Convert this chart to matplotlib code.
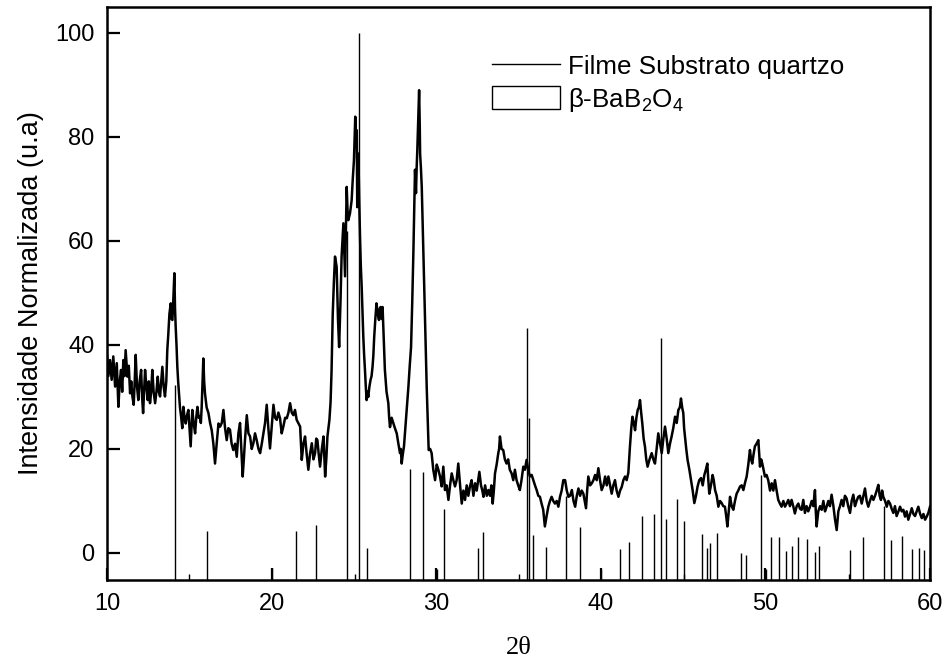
import matplotlib
matplotlib.use("Agg")
import matplotlib.pyplot as plt
from matplotlib.lines import Line2D
from matplotlib.patches import Rectangle

plt.rcParams['font.family'] = ['Liberation Sans', 'DejaVu Sans']
plt.rcParams['mathtext.fontset'] = 'custom'
plt.rcParams['mathtext.rm'] = 'Liberation Sans'
plt.rcParams['mathtext.it'] = 'Liberation Sans:italic'

# ---- measured pattern (2theta, normalized intensity) ----
two_theta = [
    10.00, 10.08, 10.18, 10.28, 10.38, 10.49, 10.59, 10.69, 10.77, 10.85, 10.92, 10.99, 11.06, 11.13, 11.24, 11.32,
    11.40, 11.47, 11.54, 11.62, 11.68, 11.74, 11.82, 11.90, 11.98, 12.07, 12.13, 12.19, 12.25, 12.31, 12.39, 12.47,
    12.54, 12.61, 12.68, 12.75, 12.83, 12.92, 13.00, 13.08, 13.15, 13.22, 13.29, 13.36, 13.44, 13.52, 13.60, 13.66,
    13.72, 13.79, 13.87, 13.92, 13.97, 14.03, 14.09, 14.13, 14.17, 14.22, 14.27, 14.32, 14.37, 14.43, 14.50, 14.57,
    14.64, 14.71, 14.78, 14.86, 14.94, 15.01, 15.08, 15.13, 15.18, 15.26, 15.35, 15.42, 15.49, 15.57, 15.65, 15.70,
    15.75, 15.80, 15.85, 15.90, 15.95, 16.05, 16.16, 16.26, 16.36, 16.46, 16.56, 16.66, 16.77, 16.87, 16.97, 17.07,
    17.17, 17.27, 17.37, 17.47, 17.57, 17.67, 17.78, 17.88, 17.98, 18.08, 18.16, 18.24, 18.31, 18.38, 18.49, 18.59,
    18.69, 18.79, 18.89, 18.99, 19.09, 19.20, 19.30, 19.40, 19.50, 19.60, 19.70, 19.80, 19.90, 20.00, 20.11, 20.21,
    20.31, 20.41, 20.51, 20.61, 20.71, 20.82, 20.92, 21.02, 21.12, 21.22, 21.32, 21.42, 21.52, 21.62, 21.73, 21.83,
    21.93, 22.03, 22.13, 22.23, 22.33, 22.44, 22.54, 22.64, 22.71, 22.78, 22.86, 22.94, 23.05, 23.15, 23.25, 23.32,
    23.39, 23.45, 23.51, 23.58, 23.64, 23.71, 23.78, 23.85, 23.95, 24.03, 24.10, 24.18, 24.25, 24.36, 24.46, 24.51,
    24.56, 24.61, 24.66, 24.76, 24.86, 24.93, 25.00, 25.08, 25.13, 25.17, 25.20, 25.24, 25.27, 25.32, 25.37, 25.42,
    25.47, 25.52, 25.57, 25.62, 25.67, 25.72, 25.77, 25.82, 25.87, 25.94, 26.01, 26.07, 26.13, 26.18, 26.23, 26.30,
    26.37, 26.45, 26.52, 26.57, 26.62, 26.68, 26.74, 26.81, 26.88, 26.98, 27.09, 27.14, 27.19, 27.29, 27.39, 27.49,
    27.60, 27.70, 27.80, 27.85, 27.90, 27.97, 28.04, 28.17, 28.31, 28.39, 28.47, 28.54, 28.61, 28.66, 28.71, 28.77,
    28.81, 28.85, 28.91, 28.96, 29.00, 29.02, 29.07, 29.12, 29.17, 29.22, 29.27, 29.32, 29.37, 29.42, 29.48, 29.54,
    29.63, 29.72, 29.82, 29.93, 30.03, 30.13, 30.23, 30.33, 30.43, 30.53, 30.63, 30.74, 30.84, 30.94, 31.04, 31.14,
    31.24, 31.34, 31.45, 31.55, 31.65, 31.75, 31.85, 31.95, 32.05, 32.15, 32.26, 32.36, 32.46, 32.55, 32.62, 32.72,
    32.80, 32.87, 32.97, 33.07, 33.17, 33.27, 33.35, 33.43, 33.50, 33.57, 33.67, 33.77, 33.82, 33.87, 33.97, 34.07,
    34.17, 34.27, 34.37, 34.47, 34.58, 34.68, 34.78, 34.88, 34.98, 35.08, 35.18, 35.29, 35.39, 35.49, 35.59, 35.69,
    35.80, 35.90, 36.00, 36.10, 36.20, 36.30, 36.40, 36.50, 36.60, 36.70, 36.81, 36.91, 37.01, 37.11, 37.21, 37.32,
    37.42, 37.52, 37.62, 37.72, 37.83, 37.93, 38.03, 38.13, 38.24, 38.34, 38.44, 38.54, 38.64, 38.74, 38.84, 38.94,
    39.02, 39.10, 39.17, 39.24, 39.35, 39.45, 39.55, 39.65, 39.75, 39.85, 39.95, 40.05, 40.16, 40.26, 40.36, 40.46,
    40.56, 40.66, 40.76, 40.86, 40.96, 41.07, 41.17, 41.27, 41.37, 41.47, 41.57, 41.67, 41.72, 41.77, 41.85, 41.92,
    42.00, 42.08, 42.16, 42.24, 42.31, 42.38, 42.45, 42.52, 42.60, 42.68, 42.76, 42.84, 42.96, 43.09, 43.19, 43.29,
    43.39, 43.49, 43.60, 43.70, 43.80, 43.90, 44.00, 44.10, 44.20, 44.30, 44.40, 44.51, 44.61, 44.71, 44.80, 44.87,
    44.94, 45.01, 45.06, 45.11, 45.19, 45.27, 45.38, 45.48, 45.58, 45.68, 45.78, 45.88, 45.98, 46.09, 46.19, 46.29,
    46.38, 46.47, 46.53, 46.59, 46.69, 46.79, 46.86, 46.94, 47.04, 47.14, 47.24, 47.34, 47.44, 47.54, 47.62, 47.69,
    47.77, 47.85, 47.95, 48.05, 48.15, 48.25, 48.35, 48.46, 48.56, 48.66, 48.76, 48.86, 48.96, 49.06, 49.13, 49.20,
    49.28, 49.36, 49.46, 49.57, 49.62, 49.67, 49.74, 49.81, 49.89, 49.97, 50.07, 50.17, 50.28, 50.38, 50.48, 50.58,
    50.68, 50.78, 50.88, 50.98, 51.09, 51.19, 51.29, 51.39, 51.49, 51.59, 51.69, 51.79, 51.90, 52.00, 52.10, 52.20,
    52.30, 52.40, 52.50, 52.60, 52.71, 52.81, 52.91, 53.01, 53.06, 53.11, 53.21, 53.32, 53.42, 53.52, 53.62, 53.72,
    53.82, 53.92, 54.02, 54.13, 54.23, 54.33, 54.43, 54.53, 54.63, 54.73, 54.83, 54.93, 55.03, 55.14, 55.24, 55.34,
    55.44, 55.54, 55.64, 55.74, 55.85, 55.95, 56.05, 56.15, 56.25, 56.35, 56.46, 56.56, 56.66, 56.76, 56.86, 56.94,
    57.02, 57.09, 57.16, 57.27, 57.37, 57.47, 57.57, 57.67, 57.77, 57.87, 57.97, 58.08, 58.18, 58.28, 58.38, 58.48,
    58.58, 58.68, 58.79, 58.89, 58.99, 59.09, 59.19, 59.29, 59.40, 59.50, 59.60, 59.70, 59.80, 59.90, 60.00,
]
intensity = [
    38.0, 34.0, 37.1, 33.3, 37.8, 32.0, 36.5, 28.1, 33.0, 35.2, 31.0, 37.1, 34.0, 39.0, 33.9, 36.0,
    30.7, 33.0, 30.1, 28.5, 33.0, 38.1, 32.0, 29.4, 33.0, 35.2, 30.0, 26.9, 31.0, 35.2, 32.0, 29.4,
    33.0, 28.8, 31.0, 35.2, 31.0, 28.8, 31.0, 33.9, 31.0, 30.1, 33.0, 35.8, 32.0, 30.1, 33.0, 39.0,
    42.0, 46.0, 48.0, 45.0, 44.8, 49.0, 53.8, 47.0, 43.5, 40.0, 35.8, 33.0, 30.7, 28.0, 26.2, 24.0,
    28.1, 26.0, 24.9, 26.5, 27.5, 24.0, 20.5, 24.0, 27.5, 25.0, 23.0, 26.0, 28.1, 26.0, 26.2, 25.0,
    28.1, 33.0, 37.4, 33.0, 30.7, 28.0, 26.9, 25.0, 23.6, 21.0, 17.2, 21.0, 24.9, 24.3, 25.0, 27.5,
    24.0, 21.7, 24.0, 23.7, 21.0, 19.8, 21.0, 18.5, 23.0, 25.0, 20.0, 14.7, 18.0, 21.7, 26.5, 23.0,
    22.4, 20.0, 21.1, 23.0, 21.7, 20.0, 19.2, 21.0, 23.0, 25.0, 28.5, 24.0, 20.1, 24.0, 28.5, 26.0,
    25.6, 27.0, 25.9, 23.0, 24.3, 26.0, 25.9, 27.0, 28.8, 27.0, 26.5, 27.5, 25.6, 25.0, 24.3, 17.9,
    21.0, 22.4, 19.0, 16.0, 19.0, 21.1, 18.0, 19.2, 22.0, 21.7, 19.0, 16.6, 20.0, 22.4, 14.7, 18.0,
    22.4, 24.0, 25.6, 29.0, 35.0, 45.8, 52.0, 57.0, 55.0, 45.0, 39.6, 48.0, 57.0, 63.4, 53.2, 62.0,
    70.4, 66.0, 64.0, 65.3, 67.8, 72.0, 75.5, 83.9, 80.0, 81.3, 66.5, 72.0, 76.8, 68.0, 60.8, 55.0,
    51.2, 46.0, 41.5, 38.0, 35.2, 32.0, 29.4, 31.0, 30.0, 32.0, 33.3, 34.0, 35.8, 38.0, 41.5, 45.0,
    48.0, 46.0, 44.8, 47.0, 47.3, 45.0, 47.3, 41.0, 35.2, 31.0, 28.8, 26.0, 24.2, 26.0, 25.0, 24.0,
    23.0, 21.0, 19.2, 20.0, 17.2, 19.0, 20.5, 26.0, 32.0, 36.0, 39.6, 48.0, 57.6, 66.0, 73.7, 69.2,
    74.0, 77.5, 84.0, 89.0, 82.0, 76.8, 74.0, 70.4, 64.0, 57.6, 51.0, 44.8, 38.0, 32.0, 26.0, 19.8,
    20.0, 19.2, 16.0, 14.0, 17.0, 16.0, 14.7, 12.8, 16.6, 12.1, 13.0, 10.2, 13.0, 15.3, 14.0, 12.8,
    14.0, 17.2, 13.0, 9.5, 12.0, 10.2, 13.0, 11.0, 12.8, 14.0, 11.0, 13.4, 12.0, 14.0, 15.6, 13.0,
    12.0, 10.8, 13.0, 11.0, 12.1, 11.0, 13.0, 9.5, 12.0, 15.3, 17.0, 19.2, 20.0, 22.4, 20.0, 19.8,
    18.0, 17.2, 18.0, 16.0, 15.3, 14.0, 16.0, 14.0, 13.0, 12.1, 14.0, 16.6, 16.0, 17.9, 16.0, 14.7,
    15.0, 14.0, 13.0, 12.1, 11.0, 10.8, 9.5, 8.3, 5.1, 7.0, 8.9, 10.0, 10.8, 10.0, 9.5, 10.0,
    8.9, 10.8, 12.0, 14.0, 14.0, 12.0, 10.8, 11.0, 12.1, 10.0, 8.9, 11.0, 12.4, 11.0, 12.0, 11.4,
    10.0, 8.6, 12.0, 14.7, 13.0, 13.4, 14.0, 15.0, 14.0, 16.3, 14.0, 12.1, 13.0, 14.7, 13.0, 14.7,
    13.0, 11.4, 13.0, 14.0, 12.0, 10.8, 12.0, 12.7, 14.0, 14.7, 14.0, 15.4, 18.0, 20.5, 24.0, 26.2,
    25.0, 23.6, 26.0, 27.5, 28.0, 29.4, 27.0, 24.9, 22.0, 20.5, 18.0, 16.6, 18.0, 19.2, 18.0, 17.2,
    20.0, 23.0, 21.0, 19.2, 22.0, 24.3, 22.0, 19.2, 21.0, 22.4, 24.0, 26.2, 25.0, 27.5, 28.0, 29.7,
    28.0, 26.9, 24.0, 22.4, 20.0, 17.9, 16.0, 14.0, 12.0, 9.6, 11.0, 12.8, 14.0, 14.4, 13.0, 15.0,
    16.0, 17.2, 14.0, 11.4, 13.0, 15.0, 14.0, 12.1, 11.0, 8.9, 10.0, 9.6, 9.0, 8.9, 7.0, 5.1,
    8.0, 10.8, 9.0, 8.3, 10.0, 11.4, 12.0, 12.8, 13.0, 12.1, 13.5, 14.7, 17.0, 19.8, 18.0, 17.2,
    19.0, 20.5, 21.0, 21.7, 19.0, 16.6, 18.0, 17.2, 16.0, 14.7, 15.0, 14.0, 12.0, 13.4, 12.0, 14.0,
    12.0, 10.2, 9.5, 8.9, 10.0, 8.9, 9.5, 10.2, 9.0, 10.2, 9.0, 7.6, 9.0, 9.5, 8.5, 8.3,
    10.2, 7.7, 9.0, 8.0, 8.9, 10.0, 9.0, 12.1, 8.0, 5.1, 8.0, 9.0, 8.3, 10.0, 8.0, 8.9,
    10.0, 9.0, 11.2, 9.0, 6.4, 4.4, 8.0, 9.0, 10.2, 9.0, 11.0, 10.5, 9.0, 7.7, 10.0, 11.2,
    9.0, 10.0, 10.8, 11.0, 9.5, 11.0, 12.4, 10.0, 8.9, 10.0, 11.0, 10.2, 11.0, 12.0, 13.1, 11.0,
    10.2, 12.0, 10.8, 10.0, 8.9, 10.0, 9.5, 8.5, 7.7, 9.0, 7.1, 8.0, 8.9, 8.0, 8.3, 7.0,
    8.0, 6.4, 7.5, 8.6, 7.5, 7.1, 8.0, 8.9, 7.5, 6.7, 7.5, 6.4, 7.0, 7.7, 8.9,
]

# ---- reference pattern beta-BaB2O4 (stick positions and heights) ----
ref_pos = [14.11, 15.00, 16.08, 20.04, 21.46, 22.72, 24.58, 25.07, 25.31, 25.80,
           28.43, 29.18, 30.03, 30.45, 32.54, 32.84, 35.03, 35.54, 35.62, 35.88,
           36.69, 37.90, 38.73, 40.03, 41.19, 41.69, 42.52, 43.25, 43.66, 43.96,
           44.65, 45.03, 45.08, 46.17, 46.43, 46.65, 47.08, 48.49, 48.82, 49.75,
           50.02, 50.34, 50.85, 51.23, 51.62, 51.98, 52.55, 53.01, 53.24, 55.08,
           55.16, 55.95, 57.20, 57.65, 58.30, 58.91, 59.33, 59.65]
ref_int = [32.3, -4.0, 4.3, -2.9, 4.2, 5.3, 62.0, -4.0, 100.0, 1.0,
           16.1, 15.5, -3.0, 8.5, 1.0, 4.0, -4.0, 43.3, 26.0, 3.4,
           1.2, 11.0, 4.9, -3.0, 0.7, 2.1, 7.2, 7.4, 41.3, 6.5,
           10.3, 6.2, -4.0, 3.7, 1.0, 1.9, 3.8, -0.1, -0.3, 15.0,
           -3.0, 3.1, 3.1, 0.3, 1.3, 3.1, 2.6, 0.1, 1.4, -4.0,
           0.5, 3.1, 9.0, 2.5, 3.3, 0.8, 1.0, 0.5]

x_ticks = [10, 20, 30, 40, 50, 60]
y_ticks = [0, 20, 40, 60, 80, 100]
x_label = "2θ"
y_label = "Intensidade Normalizada (u.a)"
label_film = "Filme Substrato quartzo"
label_ref = "β-BaB$_\\mathregular{2}$O$_\\mathregular{4}$"

YMIN, YMAX = -5.2, 105.0

fig = plt.figure(figsize=(9.49, 6.64), dpi=100)
ax = fig.add_axes([0.1128, 0.1265, 0.8672, 0.863])

ax.vlines(ref_pos, YMIN, ref_int, colors='black', linewidth=1.0, zorder=2)
ax.plot(two_theta, intensity, color='black', linewidth=1.8, zorder=3)

ax.set_xlim(10, 60)
ax.set_ylim(YMIN, YMAX)
ax.set_xticks(x_ticks)
ax.set_yticks(y_ticks)
ax.tick_params(axis='both', direction='in', length=9, width=1.6, labelsize=17)
ax.tick_params(axis='y', pad=9)
ax.tick_params(axis='x', pad=9)
for s in ax.spines.values():
    s.set_linewidth(1.8)

ax.set_xlabel(x_label, fontsize=19, family=['Liberation Serif', 'DejaVu Serif'], labelpad=16)
ax.set_ylabel(y_label, fontsize=19.5, labelpad=8)

handles = [Line2D([], [], color='black', linewidth=1.0),
           Rectangle((0, 0), 1, 1, facecolor='white', edgecolor='black', linewidth=1.0)]
ax.legend(handles, [label_film, label_ref], loc='upper left', bbox_to_anchor=(0.468, 0.918),
          frameon=False, fontsize=18.7, handlelength=2.6, handleheight=0.95,
          handletextpad=0.3, labelspacing=0.25, borderaxespad=0.0, borderpad=0.0)

fig.savefig("out.png", dpi=100)
